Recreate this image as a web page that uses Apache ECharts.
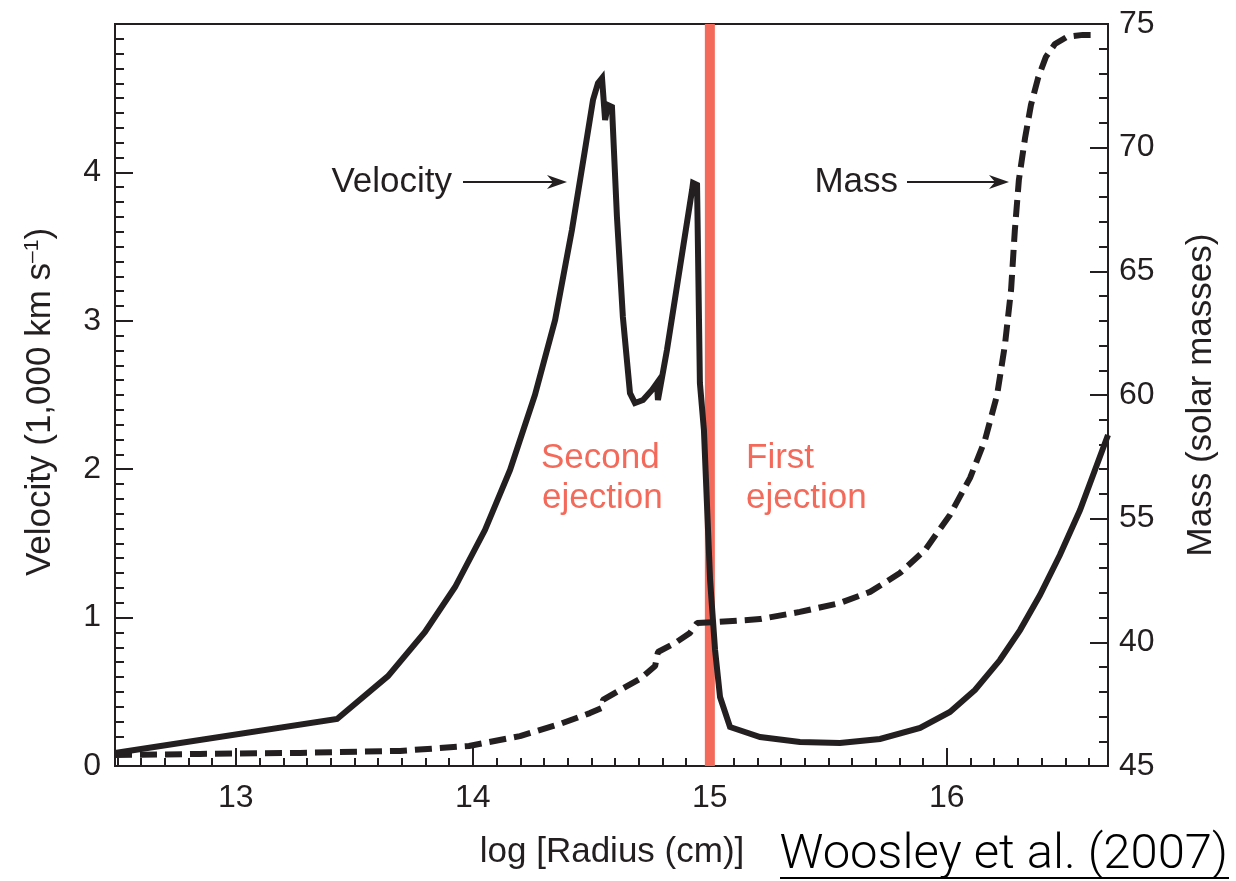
<!DOCTYPE html>
<html>
<head>
<meta charset="utf-8">
<script src="https://cdn.jsdelivr.net/npm/echarts@6/dist/echarts.min.js"></script>
<style>html,body{margin:0;padding:0;background:#fff}#c{width:1236px;height:881px}</style>
</head>
<body>
<div id="c"></div>
<script>
// ---- data ----
const radiusV = [12.490, 13.427, 13.642, 13.798, 13.925, 14.051, 14.157, 14.262, 14.347, 14.418, 14.473, 14.507, 14.528, 14.545, 14.558, 14.570, 14.587, 14.608, 14.633, 14.663, 14.684, 14.718, 14.756, 14.777, 14.781, 14.819, 14.874, 14.925, 14.929, 14.946, 14.958, 14.975, 15.001, 15.022, 15.043, 15.085, 15.212, 15.380, 15.549, 15.718, 15.887, 16.013, 16.119, 16.224, 16.309, 16.393, 16.477, 16.562, 16.625, 16.680];
const velocity = [0.088, 0.317, 0.606, 0.903, 1.206, 1.590, 1.995, 2.500, 3.005, 3.612, 4.151, 4.488, 4.602, 4.636, 4.353, 4.454, 4.441, 3.700, 3.026, 2.513, 2.446, 2.466, 2.534, 2.581, 2.466, 2.803, 3.363, 3.881, 3.929, 3.916, 2.581, 2.264, 1.253, 0.782, 0.465, 0.263, 0.195, 0.162, 0.155, 0.182, 0.256, 0.364, 0.512, 0.714, 0.916, 1.152, 1.422, 1.725, 1.995, 2.230];
const radiusM = [12.490, 12.849, 13.271, 13.693, 13.984, 14.199, 14.368, 14.494, 14.545, 14.549, 14.621, 14.705, 14.769, 14.781, 14.853, 14.916, 14.946, 15.030, 15.212, 15.380, 15.549, 15.676, 15.802, 15.908, 16.013, 16.098, 16.161, 16.212, 16.245, 16.271, 16.287, 16.304, 16.330, 16.355, 16.385, 16.418, 16.456, 16.507, 16.574, 16.633];
const mass = [45.44, 45.49, 45.53, 45.61, 45.81, 46.21, 46.70, 47.14, 47.35, 47.67, 48.07, 48.52, 49.04, 49.61, 49.97, 50.38, 50.78, 50.82, 50.94, 51.23, 51.59, 52.04, 52.80, 53.73, 55.15, 56.65, 58.18, 60.00, 62.02, 64.25, 66.67, 68.70, 70.39, 71.73, 72.82, 73.67, 74.19, 74.48, 74.56, 74.56];
const xTickValues = [13, 14, 15, 16];
const velocityTickLabels = ['0', '1', '2', '3', '4', ''];
const massTickLabels = ['45', '40', '55', '60', '65', '70', '75'];
const ejectionRadius = 15.0;

const INK = '#231f20';
const RED = '#f46a5a';
const FONT = "'Liberation Sans', Arial, Helvetica, sans-serif";

const V_MIN = 0, V_MAX = 5;
const xMinorTicks = Array.from({length: 42}, (_, i) => +(12.5 + i * 0.1).toFixed(1));
const velPairs = radiusV.map((x, i) => [x, velocity[i]]);
const massPairs = radiusM.map((x, i) => [x, mass[i]]);
const ejectionPairs = [[ejectionRadius, V_MIN], [ejectionRadius, V_MAX]];

const chart = echarts.init(document.getElementById('c'), null, {renderer: 'canvas'});

const tickStyle = {color: INK, width: 2};
const noSplit = {show: false};
const X_MIN = 12.49, X_MAX = 16.68;

const option = {
  animation: false,
  backgroundColor: '#fff',
  grid: {left: 115, right: 128, top: 24, bottom: 115, show: true, borderColor: INK, borderWidth: 2, backgroundColor: 'transparent'},
  xAxis: [
    {type: 'value', min: X_MIN, max: X_MAX, position: 'bottom',
     axisLine: {show: false},
     axisTick: {inside: true, length: 8, customValues: xMinorTicks, lineStyle: tickStyle},
     axisLabel: {show: false}, splitLine: noSplit},
    {type: 'value', min: X_MIN, max: X_MAX, position: 'bottom',
     axisLine: {show: false},
     axisTick: {inside: true, length: 18, customValues: xTickValues, lineStyle: tickStyle},
     axisLabel: {customValues: xTickValues, fontSize: 32, color: INK, fontFamily: FONT, margin: 16},
     splitLine: noSplit}
  ],
  yAxis: [
    {type: 'value', min: V_MIN, max: V_MAX, interval: 0.1, position: 'left',
     axisLine: {show: false}, axisTick: {inside: true, length: 9, lineStyle: tickStyle},
     axisLabel: {show: false}, splitLine: noSplit},
    {type: 'value', min: V_MIN, max: V_MAX, interval: 1, position: 'left',
     axisLine: {show: false}, axisTick: {inside: true, length: 18, lineStyle: tickStyle},
     axisLabel: {fontSize: 32, color: INK, fontFamily: FONT, margin: 14,
       formatter: v => velocityTickLabels[Math.round(v)]},
     splitLine: noSplit},
    {type: 'value', min: 45, max: 75, interval: 1, position: 'right',
     axisLine: {show: false}, axisTick: {inside: true, length: 9, lineStyle: tickStyle},
     axisLabel: {show: false}, splitLine: noSplit},
    {type: 'value', min: 45, max: 75, interval: 5, position: 'right',
     axisLine: {show: false}, axisTick: {inside: true, length: 18, lineStyle: tickStyle},
     axisLabel: {fontSize: 32, color: INK, fontFamily: FONT, margin: 11,
       formatter: v => massTickLabels[Math.round((v - 45) / 5)]},
     splitLine: noSplit}
  ],
  series: [
    {type: 'line', name: 'ejection', data: ejectionPairs, xAxisIndex: 0, yAxisIndex: 0, z: 1,
     showSymbol: false, symbol: 'none', silent: true,
     lineStyle: {color: RED, width: 10, type: 'solid', cap: 'butt'}},
    {type: 'line', name: 'Mass', data: massPairs, xAxisIndex: 0, yAxisIndex: 2, z: 3,
     showSymbol: false, symbol: 'none',
     lineStyle: {color: INK, width: 6, type: [17, 8], cap: 'butt'}},
    {type: 'line', name: 'Velocity', data: velPairs, xAxisIndex: 0, yAxisIndex: 0, z: 4,
     showSymbol: false, symbol: 'none',
     lineStyle: {color: INK, width: 6, join: 'miter', miterLimit: 4}}
  ],
  graphic: [
    // axis titles
    {type: 'text', x: 40, y: 402, rotation: Math.PI / 2,
     style: {text: '{a|Velocity (1,000 km s}{b|–1}{a|)}', align: 'center', verticalAlign: 'middle',
       textAlign: 'center', textVerticalAlign: 'middle',
       rich: {a: {fontSize: 35, fontFamily: FONT, fill: INK, color: INK},
              b: {fontSize: 21, fontFamily: FONT, fill: INK, color: INK, verticalAlign: 'top', padding: [0, 0, 16, 0]}}}},
    {type: 'text', x: 1201, y: 395, rotation: Math.PI / 2,
     style: {text: 'Mass (solar masses)', align: 'center', verticalAlign: 'middle',
       textAlign: 'center', textVerticalAlign: 'middle', fontSize: 35, fontFamily: FONT, fill: INK}},
    {type: 'text', x: 612, y: 852,
     style: {text: 'log [Radius (cm)]', align: 'center', verticalAlign: 'middle',
       textAlign: 'center', textVerticalAlign: 'middle', fontSize: 35, fontFamily: FONT, fill: INK}},
    // annotations
    {type: 'text', x: 452, y: 182,
     style: {text: 'Velocity', align: 'right', verticalAlign: 'middle', textAlign: 'right', textVerticalAlign: 'middle',
       fontSize: 35, fontFamily: FONT, fill: INK}},
    {type: 'line', shape: {x1: 463, y1: 182, x2: 556, y2: 182}, style: {stroke: INK, lineWidth: 2}},
    {type: 'polygon', shape: {points: [[567, 182], [547, 175], [553, 182], [547, 189]]}, style: {fill: INK}},
    {type: 'text', x: 898, y: 182,
     style: {text: 'Mass', align: 'right', verticalAlign: 'middle', textAlign: 'right', textVerticalAlign: 'middle',
       fontSize: 35, fontFamily: FONT, fill: INK}},
    {type: 'line', shape: {x1: 907, y1: 182, x2: 998, y2: 182}, style: {stroke: INK, lineWidth: 2}},
    {type: 'polygon', shape: {points: [[1009, 182], [989, 175], [995, 182], [989, 189]]}, style: {fill: INK}},
    {type: 'text', x: 541, y: 458,
     style: {text: 'Second', align: 'left', verticalAlign: 'middle', textAlign: 'left', textVerticalAlign: 'middle',
       fontSize: 35, fontFamily: FONT, fill: RED}},
    {type: 'text', x: 542, y: 498,
     style: {text: 'ejection', align: 'left', verticalAlign: 'middle', textAlign: 'left', textVerticalAlign: 'middle',
       fontSize: 35, fontFamily: FONT, fill: RED}},
    {type: 'text', x: 746, y: 458,
     style: {text: 'First', align: 'left', verticalAlign: 'middle', textAlign: 'left', textVerticalAlign: 'middle',
       fontSize: 35, fontFamily: FONT, fill: RED}},
    {type: 'text', x: 746, y: 498,
     style: {text: 'ejection', align: 'left', verticalAlign: 'middle', textAlign: 'left', textVerticalAlign: 'middle',
       fontSize: 35, fontFamily: FONT, fill: RED}},
    // citation
    {type: 'text', x: 1228, y: 856,
     style: {text: 'Woosley et al. (2007)', align: 'right', verticalAlign: 'middle', textAlign: 'right', textVerticalAlign: 'middle',
       fontSize: 49, fontWeight: 300, fontFamily: "Roboto, 'Liberation Sans', sans-serif", fill: '#000'}},
    {type: 'line', shape: {x1: 780, y1: 878, x2: 1229, y2: 878}, style: {stroke: '#000', lineWidth: 2}}
  ]
};
chart.setOption(option);
</script>
</body>
</html>
